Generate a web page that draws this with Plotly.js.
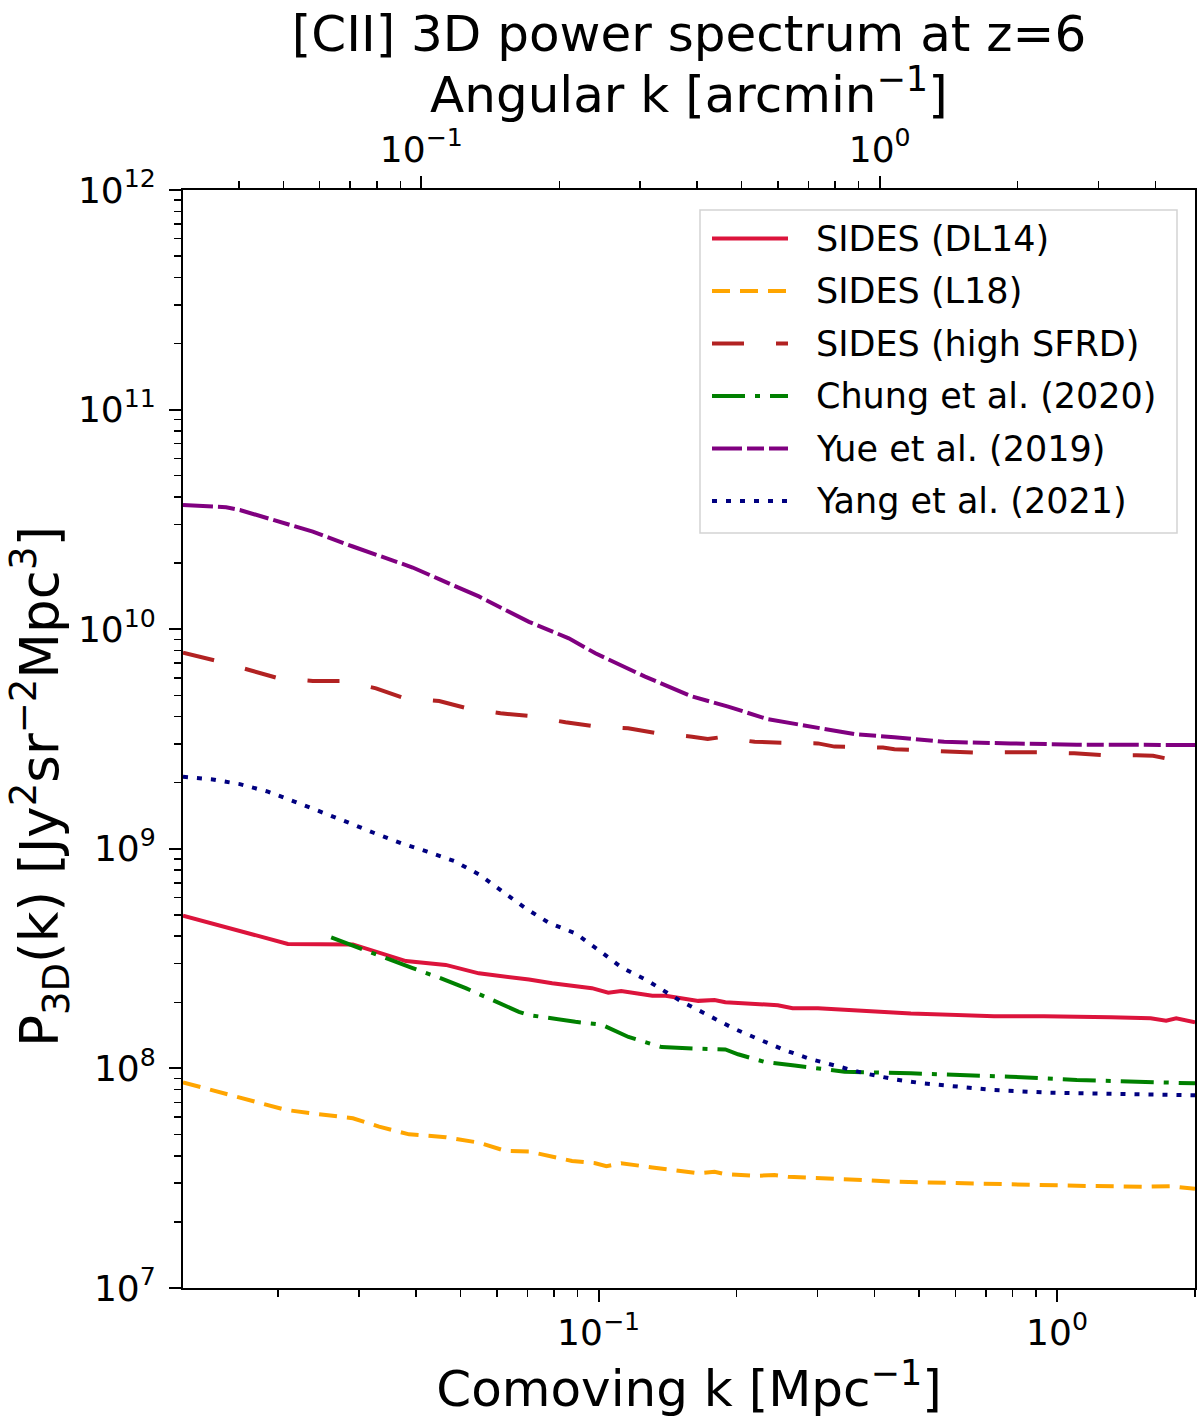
<!DOCTYPE html>
<html>
<head>
<meta charset="utf-8">
<script src="https://cdn.plot.ly/plotly-3.0.1.min.js"></script>
<style>html,body{margin:0;padding:0;background:#fff;}</style>
</head>
<body>
<div id="chart" style="width:1200px;height:1425px;"></div>
<script>
// ---------------- data ----------------
const seriesNames = ["SIDES (DL14)", "SIDES (L18)", "SIDES (high SFRD)", "Chung et al. (2020)", "Yue et al. (2019)", "Yang et al. (2021)"];

const kDL14 = [0.0124, 0.0210, 0.0291, 0.0380, 0.0464, 0.0548, 0.0705, 0.0792, 0.0967, 0.105, 0.112, 0.131, 0.140, 0.150, 0.165, 0.179, 0.189, 0.246, 0.265, 0.301, 0.344, 0.442, 0.480, 0.729, 0.936, 1.31, 1.60, 1.73, 1.82, 2.0];
const pDL14 = [4.96e8, 3.69e8, 3.67e8, 3.08e8, 2.96e8, 2.71e8, 2.54e8, 2.44e8, 2.32e8, 2.21e8, 2.25e8, 2.14e8, 2.14e8, 2.10e8, 2.03e8, 2.05e8, 2.00e8, 1.94e8, 1.88e8, 1.88e8, 1.85e8, 1.81e8, 1.78e8, 1.73e8, 1.73e8, 1.71e8, 1.69e8, 1.65e8, 1.69e8, 1.62e8];

const kL18 = [0.0124, 0.0144, 0.0168, 0.0208, 0.0238, 0.0291, 0.0332, 0.0386, 0.0464, 0.0548, 0.0627, 0.0705, 0.0875, 0.0984, 0.104, 0.112, 0.131, 0.165, 0.179, 0.189, 0.219, 0.242, 0.259, 0.344, 0.380, 0.442, 0.567, 0.670, 0.791, 1.105, 1.543, 1.763, 2.0];
const pL18 = [8.64e7, 7.97e7, 7.31e7, 6.47e7, 6.24e7, 5.93e7, 5.43e7, 5.01e7, 4.86e7, 4.59e7, 4.21e7, 4.18e7, 3.79e7, 3.70e7, 3.59e7, 3.70e7, 3.54e7, 3.33e7, 3.38e7, 3.30e7, 3.24e7, 3.27e7, 3.21e7, 3.15e7, 3.10e7, 3.05e7, 3.01e7, 2.97e7, 2.97e7, 2.92e7, 2.89e7, 2.91e7, 2.83e7];

const kHigh = [0.0124, 0.0147, 0.0173, 0.0200, 0.0238, 0.0277, 0.0327, 0.0377, 0.0449, 0.0517, 0.0611, 0.0710, 0.0847, 0.0975, 0.116, 0.129, 0.134, 0.160, 0.173, 0.184, 0.219, 0.255, 0.301, 0.327, 0.350, 0.417, 0.442, 0.480, 0.567, 0.659, 0.791, 0.920, 1.09, 1.26, 1.49, 1.62, 1.73, 2.0];
const pHigh = [7.82e9, 7.17e9, 6.52e9, 5.98e9, 5.81e9, 5.81e9, 5.38e9, 4.85e9, 4.71e9, 4.36e9, 4.14e9, 4.02e9, 3.77e9, 3.62e9, 3.54e9, 3.38e9, 3.36e9, 3.24e9, 3.16e9, 3.22e9, 3.07e9, 3.04e9, 3.02e9, 2.92e9, 2.92e9, 2.89e9, 2.84e9, 2.82e9, 2.79e9, 2.74e9, 2.75e9, 2.75e9, 2.72e9, 2.67e9, 2.67e9, 2.65e9, 2.58e9, 2.54e9];

const kChung = [0.0261, 0.0301, 0.0393, 0.0449, 0.0513, 0.0670, 0.0705, 0.0890, 0.1017, 0.1162, 0.1373, 0.165, 0.189, 0.2015, 0.2303, 0.2677, 0.3058, 0.344, 0.480, 0.791, 1.105, 2.0];
const pChung = [3.95e8, 3.52e8, 2.86e8, 2.59e8, 2.32e8, 1.81e8, 1.75e8, 1.63e8, 1.58e8, 1.39e8, 1.25e8, 1.23e8, 1.22e8, 1.16e8, 1.07e8, 1.03e8, 9.91e7, 9.66e7, 9.50e7, 9.17e7, 8.85e7, 8.55e7];

const kYue = [0.0124, 0.0154, 0.0165, 0.0189, 0.0238, 0.0291, 0.0355, 0.0393, 0.0449, 0.0548, 0.0705, 0.0861, 0.0984, 0.1263, 0.1595, 0.1917, 0.2342, 0.2909, 0.3614, 0.4416, 0.5673, 0.791, 1.105, 1.885, 2.0];
const pYue = [3.68e10, 3.59e10, 3.49e10, 3.20e10, 2.78e10, 2.38e10, 2.07e10, 1.91e10, 1.69e10, 1.41e10, 1.08e10, 9.09e9, 7.77e9, 6.08e9, 4.95e9, 4.44e9, 3.89e9, 3.60e9, 3.33e9, 3.22e9, 3.07e9, 3.02e9, 2.98e9, 2.97e9, 2.97e9];

const kYang = [0.0124, 0.0144, 0.0165, 0.0190, 0.0217, 0.0248, 0.0284, 0.0324, 0.0371, 0.0423, 0.0484, 0.0548, 0.0616, 0.0693, 0.0778, 0.0890, 0.100, 0.112, 0.127, 0.144, 0.152, 0.162, 0.173, 0.197, 0.225, 0.255, 0.291, 0.332, 0.380, 0.442, 0.509, 0.586, 0.729, 0.967, 1.28, 2.0];
const pYang = [2.13e9, 2.07e9, 1.97e9, 1.82e9, 1.64e9, 1.48e9, 1.32e9, 1.18e9, 1.06e9, 9.70e8, 8.80e8, 7.65e8, 6.42e8, 5.36e8, 4.61e8, 4.12e8, 3.46e8, 2.89e8, 2.53e8, 2.16e8, 2.01e8, 1.88e8, 1.75e8, 1.52e8, 1.35e8, 1.21e8, 1.10e8, 1.02e8, 9.50e7, 8.92e7, 8.55e7, 8.32e7, 7.97e7, 7.75e7, 7.64e7, 7.54e7];

// axis extents, titles and tick labels
const kRange = [0.0124, 2.0];          // comoving k [Mpc^-1]
const pRange = [1e7, 1e12];
const angularPerComoving = 2.437;      // arcmin^-1 per Mpc^-1 at z=6
const xTickVals = [0.1, 1];
const xTickText = ["10<sup>\u22121</sup>", "10<sup>0</sup>"];
const x2TickVals = [0.1, 1];
const x2TickText = ["10<sup>\u22121</sup>", "10<sup>0</sup>"];
const yTickVals = [1e7, 1e8, 1e9, 1e10, 1e11, 1e12];
const yTickText = ["10<sup>7</sup>", "10<sup>8</sup>", "10<sup>9</sup>", "10<sup>10</sup>", "10<sup>11</sup>", "10<sup>12</sup>"];
const titleText = "[CII] 3D power spectrum at z=6";
const xTitle = "Comoving k [Mpc<sup>\u22121</sup>]";
const x2Title = "Angular k [arcmin<sup>\u22121</sup>]";
const yTitle = "P<sub>3D</sub>(k) [Jy<sup>2</sup>sr<sup>\u22122</sup>Mpc<sup>3</sup>]";

// ---------------- styles ----------------
const colors = ["#DC143C", "#FFA500", "#B22222", "#008000", "#800080", "#000080"];
const dashes = ["solid", "18px,10px", "32px,32px", "33px,10px,5px,10px", "30px,5px,17px,5px", "5px,9px"];
const LW = 4;

function minorTicks(lo, hi) {
  const out = [];
  for (let n = Math.floor(Math.log10(lo)); n <= Math.ceil(Math.log10(hi)); n++) {
    for (let m = 2; m <= 9; m++) {
      const v = m * Math.pow(10, n);
      if (v >= lo && v <= hi) out.push(v);
    }
  }
  return out;
}

const xs = [kDL14, kL18, kHigh, kChung, kYue, kYang];
const ys = [pDL14, pL18, pHigh, pChung, pYue, pYang];

const traces = xs.map((x, i) => ({
  type: "scatter", mode: "lines", x: x, y: ys[i], name: seriesNames[i],
  line: {color: colors[i], width: LW, dash: dashes[i]},
  xaxis: "x", yaxis: "y", showlegend: false
}));
traces.push({type: "scatter", mode: "lines", x: [], y: [], xaxis: "x2", yaxis: "y", showlegend: false, hoverinfo: "skip"});

const L = Math.log10;
const x2Range = [kRange[0] * angularPerComoving, kRange[1] * angularPerComoving];

const axisCommon = {
  type: "log", showline: true, linecolor: "black", linewidth: 2,
  ticks: "outside", ticklen: 12, tickwidth: 2, tickcolor: "black",
  showgrid: false, zeroline: false, tickmode: "array",
  tickfont: {size: 36, color: "black", family: "DejaVu Sans"}
};

// ---------------- pixel layout -> paper coordinates ----------------
const M = {l: 183, r: 5, t: 190, b: 137};
const W = 1200, H = 1425;
const PW = W - M.l - M.r, PH = H - M.t - M.b;
const px2p = px => (px - M.l) / PW;
const py2p = py => (H - M.b - py) / PH;

// manual legend
const shapes = [{
  type: "rect", xref: "paper", yref: "paper",
  x0: px2p(700), x1: px2p(1177), y0: py2p(533), y1: py2p(210),
  line: {color: "#d3d3d3", width: 1.5}, fillcolor: "rgba(255,255,255,0.85)", layer: "above"
}];
const annotations = [];
const legTop = 238.5, legStep = 52.5;
seriesNames.forEach((nm, i) => {
  const yy = py2p(legTop + i * legStep);
  shapes.push({
    type: "line", xref: "paper", yref: "paper",
    x0: px2p(712), x1: px2p(788), y0: yy, y1: yy,
    line: {color: colors[i], width: LW, dash: dashes[i]}, layer: "above"
  });
  annotations.push({
    xref: "paper", yref: "paper", x: px2p(814), y: yy,
    xanchor: "left", yanchor: "middle", showarrow: false,
    text: nm, font: {size: 35, color: "black", family: "DejaVu Sans"}
  });
});

// top-axis title and y-axis title as annotations (placed like the reference)
annotations.push({
  xref: "paper", yref: "paper", x: 0.5, y: py2p(92),
  xanchor: "center", yanchor: "middle", showarrow: false,
  text: x2Title, font: {size: 50, color: "black", family: "DejaVu Sans"}
});
annotations.push({
  xref: "paper", yref: "paper", x: px2p(40), y: py2p(787),
  xanchor: "center", yanchor: "middle", showarrow: false, textangle: -90,
  text: yTitle, font: {size: 53, color: "black", family: "DejaVu Sans"}
});

const layout = {
  width: W, height: H,
  margin: M,
  paper_bgcolor: "white", plot_bgcolor: "white",
  font: {family: "DejaVu Sans", color: "black"},
  showlegend: false,
  title: {
    text: titleText,
    font: {size: 50, color: "black", family: "DejaVu Sans"},
    x: 0.5, xref: "paper", xanchor: "center",
    y: 1 - 33 / H, yref: "container", yanchor: "middle"
  },
  xaxis: Object.assign({}, axisCommon, {
    range: [L(kRange[0]), L(kRange[1])],
    tickvals: xTickVals, ticktext: xTickText,
    side: "bottom", anchor: "y",
    minor: {tickvals: minorTicks(kRange[0], kRange[1]), ticks: "outside", ticklen: 7, tickwidth: 1.5, tickcolor: "black", showgrid: false},
    title: {text: xTitle, font: {size: 50, color: "black"}, standoff: 12}
  }),
  xaxis2: Object.assign({}, axisCommon, {
    range: [L(x2Range[0]), L(x2Range[1])],
    tickvals: x2TickVals, ticktext: x2TickText,
    side: "top", overlaying: "x", anchor: "y",
    minor: {tickvals: minorTicks(x2Range[0], x2Range[1]), ticks: "outside", ticklen: 7, tickwidth: 1.5, tickcolor: "black", showgrid: false}
  }),
  yaxis: Object.assign({}, axisCommon, {
    range: [L(pRange[0]), L(pRange[1])],
    tickvals: yTickVals, ticktext: yTickText,
    mirror: true, ticklabelstandoff: 6,
    minor: {tickvals: minorTicks(pRange[0], pRange[1]), ticks: "outside", ticklen: 7, tickwidth: 1.5, tickcolor: "black", showgrid: false}
  }),
  shapes: shapes,
  annotations: annotations
};

Plotly.newPlot("chart", traces, layout, {staticPlot: true, displayModeBar: false});
</script>
</body>
</html>
